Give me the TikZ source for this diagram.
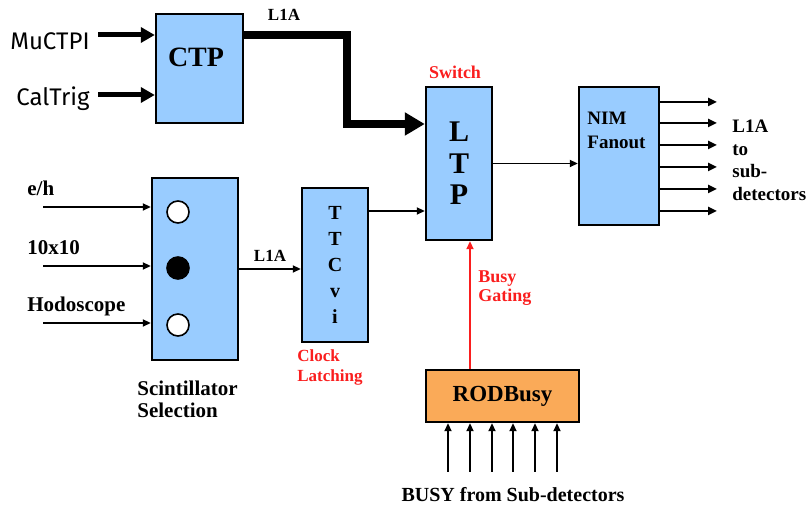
\documentclass[tikz,border=0pt]{standalone}
\usepackage{fontspec}
\setmainfont{Liberation Serif}
\newfontfamily\handfont{Fira Sans}
\usetikzlibrary{arrows.meta}

\definecolor{boxblue}{RGB}{153,204,255}
\definecolor{busyorange}{RGB}{250,170,88}
\definecolor{labelred}{RGB}{250,30,30}

\tikzset{
  unit/.style={draw, line width=1.2pt, fill=boxblue, inner sep=0pt},
  txt/.style={inner sep=0pt},
  sig/.style={line width=0.9pt, -{Triangle[length=4pt,width=3.5pt]}},
  outsig/.style={line width=1.2pt, -{Triangle[length=4.5pt,width=4pt]}},
  trig/.style={line width=2.5pt, -{Triangle[length=7pt,width=7.5pt]}},
  fat/.style={line width=4pt, -{Triangle[length=10pt,width=11pt]}},
}

\begin{document}
\begin{tikzpicture}[x=0.5pt,y=-0.5pt,font=\bfseries]
\useasboundingbox (0,0) rectangle (808,506);

% top: central trigger
\node[unit, minimum width=43.5pt, minimum height=54.5pt] (ctp) at (199.5,68.5) {};
\node[txt, font=\fontsize{14}{16}\bfseries] (ctptext) at (196,57.5) {CTP};
\coordinate (mu) at (98,35);
\coordinate (cal) at (98,95);
\node[txt, anchor=base east, font=\handfont\fontsize{12}{14}\selectfont] (mulabel) at (90,50) {MuCTPI};
\node[txt, anchor=base east, font=\handfont\fontsize{12}{14}\selectfont] (callabel) at (90,106) {CalTrig};
\draw[trig] (mu) -- (ctp.west |- mu);
\draw[trig] (cal) -- (ctp.west |- cal);
\node[txt, font=\fontsize{8.5}{10}\bfseries] (l1atop) at (284,15) {L1A};

% LTP and fanout
\node[unit, minimum width=33pt, minimum height=76.5pt, align=center,
      font=\fontsize{15}{15.75}\bfseries] (ltp) at (459,163.5) {L\\T\\P};
\node[txt, text=labelred, font=\fontsize{9}{11}\bfseries] (switch) at (455,72) {Switch};
\coordinate (bend) at (347,124);
\draw[fat] (ctp.east |- mu) -| (bend) -- (ltp.west |- bend);

\node[unit, minimum width=40pt, minimum height=69pt] (nim) at (619,156) {};
\node[txt, anchor=north west, align=left, font=\fontsize{9.5}{12}\bfseries] (nimtext) at (587,112) {NIM\\Fanout};
\draw[sig] (ltp.east) -- (ltp.east -| nim.west);
\foreach \y [count=\i] in {102,123,145,167,189,211}
  {
    \coordinate (out\i) at (717,\y);
    \draw[outsig] (nim.east |- out\i) -- (out\i);
  }
\node[txt, anchor=north west, align=left, font=\fontsize{9.5}{11.25}\bfseries] (outtext) at (732,120) {L1A\\to\\sub-\\detectors};

% left: scintillator selection
\node[unit, minimum width=43pt, minimum height=91pt] (scint) at (195,269) {};
\foreach \y/\c [count=\i] in {212/white,268/black,325/white}
  \node[circle, draw, line width=0.8pt, fill=\c, minimum size=11pt, inner sep=0pt] (hole\i) at (178,\y) {};
\foreach \y/\t [count=\i] in {207/{e/h},266/10x10,323/Hodoscope}
  {
    \coordinate (src\i) at (43,\y);
    \draw[sig] (src\i) -- (src\i -| scint.west);
    \node[txt, anchor=base west, font=\fontsize{10.5}{12}\bfseries] (srclabel\i) at (27,\y-11) {\t};
  }
\node[txt, anchor=north west, align=left, font=\fontsize{10.5}{11}\bfseries] (scinttext) at (137,381) {Scintillator\\Selection};

% TTCvi
\node[unit, minimum width=33pt, minimum height=77pt, align=center,
      font=\fontsize{10}{13}\bfseries] (ttcvi) at (335,265) {T\\T\\C\\v\\i};
\draw[sig] (scint.east) -- (scint.east -| ttcvi.west);
\node[txt, font=\fontsize{8.5}{10}\bfseries] (l1amid) at (270,256) {L1A};
\node[txt, anchor=north west, align=left, text=labelred, font=\fontsize{8.5}{10}\bfseries] (clocktext) at (297,349) {Clock\\Latching};
\coordinate (latch) at (0,211);
\draw[sig] (ttcvi.east |- latch) -- (ltp.west |- latch);

% bottom: busy
\node[unit, fill=busyorange, minimum width=76.5pt, minimum height=26pt,
      font=\fontsize{11.5}{14}\bfseries] (rodbusy) at (502.5,396) {RODBusy};
\coordinate (gate) at (470,0);
\draw[sig, labelred] (rodbusy.north -| gate) -- (ltp.south -| gate);
\node[txt, anchor=north west, align=left, text=labelred, font=\fontsize{9}{9.5}\bfseries] (gatetext) at (478,270) {Busy\\Gating};
\foreach \x [count=\i] in {448,470,492,513,535,557}
  {
    \coordinate (busy\i) at (\x,472);
    \draw[sig] (busy\i) -- (busy\i |- rodbusy.south);
  }
\node[txt, font=\fontsize{10}{12}\bfseries] (busytext) at (513,495) {BUSY from Sub-detectors};
\end{tikzpicture}
\end{document}
